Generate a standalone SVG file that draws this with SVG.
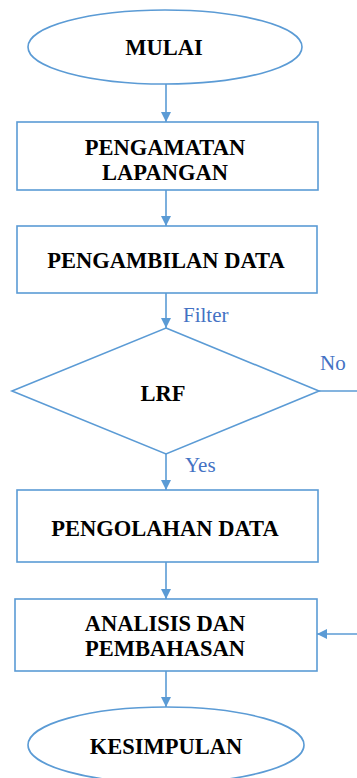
<svg xmlns="http://www.w3.org/2000/svg" width="357" height="778" viewBox="0 0 357 778">
<defs>
<marker id="ah" viewBox="0 0 10 10" refX="10" refY="5" markerWidth="10" markerHeight="10" markerUnits="userSpaceOnUse" orient="auto">
<path d="M0,0 L10,5 L0,10 z" fill="#5B9BD5"/>
</marker>
</defs>
<rect width="357" height="778" fill="#fff"/>
<g id="connectors" stroke="#5B9BD5" stroke-width="1.6" fill="none">
<line x1="166" y1="84" x2="166" y2="122" marker-end="url(#ah)"/>
<line x1="166" y1="190" x2="166" y2="226" marker-end="url(#ah)"/>
<line x1="166" y1="293" x2="166" y2="328" marker-end="url(#ah)"/>
<line x1="166" y1="454" x2="166" y2="490" marker-end="url(#ah)"/>
<line x1="166" y1="562" x2="166" y2="599" marker-end="url(#ah)"/>
<line x1="166" y1="671" x2="166" y2="707" marker-end="url(#ah)"/>
<line x1="319" y1="391" x2="357" y2="391"/>
<line x1="357" y1="634" x2="317" y2="634" marker-end="url(#ah)"/>
</g>
<text x="183" y="322" font-family="Liberation Serif" font-size="21" fill="#4472C4">Filter</text>
<text x="320" y="370" font-family="Liberation Serif" font-size="21" fill="#4472C4">No</text>
<text x="185" y="472" font-family="Liberation Serif" font-size="21" fill="#4472C4">Yes</text>
<g id="mulai">
<ellipse cx="165" cy="47" rx="137" ry="37" fill="#fff" stroke="#5B9BD5" stroke-width="1.6"/>
<text x="164" y="55" text-anchor="middle" font-family="Liberation Serif" font-weight="bold" font-size="22.5">MULAI</text>
</g>
<g id="pengamatan">
<rect x="17" y="122" width="301" height="68" fill="#fff" stroke="#5B9BD5" stroke-width="1.6"/>
<text x="165" y="155" text-anchor="middle" font-family="Liberation Serif" font-weight="bold" font-size="22.5">PENGAMATAN</text>
<text x="165" y="180" text-anchor="middle" font-family="Liberation Serif" font-weight="bold" font-size="22.5">LAPANGAN</text>
</g>
<g id="pengambilan">
<rect x="17" y="226" width="300" height="67" fill="#fff" stroke="#5B9BD5" stroke-width="1.6"/>
<text x="166" y="268" text-anchor="middle" font-family="Liberation Serif" font-weight="bold" font-size="22.5">PENGAMBILAN DATA</text>
</g>
<g id="lrf">
<polygon points="166,328 319,391 166,454 12,391" fill="#fff" stroke="#5B9BD5" stroke-width="1.6"/>
<text x="163" y="401" text-anchor="middle" font-family="Liberation Serif" font-weight="bold" font-size="22.5">LRF</text>
</g>
<g id="pengolahan">
<rect x="17" y="490" width="301" height="72" fill="#fff" stroke="#5B9BD5" stroke-width="1.6"/>
<text x="165" y="536" text-anchor="middle" font-family="Liberation Serif" font-weight="bold" font-size="22.5">PENGOLAHAN DATA</text>
</g>
<g id="analisis">
<rect x="15" y="599" width="302" height="72" fill="#fff" stroke="#5B9BD5" stroke-width="1.6"/>
<text x="165" y="631" text-anchor="middle" font-family="Liberation Serif" font-weight="bold" font-size="22.5">ANALISIS DAN</text>
<text x="165" y="656" text-anchor="middle" font-family="Liberation Serif" font-weight="bold" font-size="22.5">PEMBAHASAN</text>
</g>
<g id="kesimpulan">
<ellipse cx="166" cy="745" rx="138" ry="38" fill="#fff" stroke="#5B9BD5" stroke-width="1.6"/>
<text x="166" y="754" text-anchor="middle" font-family="Liberation Serif" font-weight="bold" font-size="22.5">KESIMPULAN</text>
</g>
</svg>
